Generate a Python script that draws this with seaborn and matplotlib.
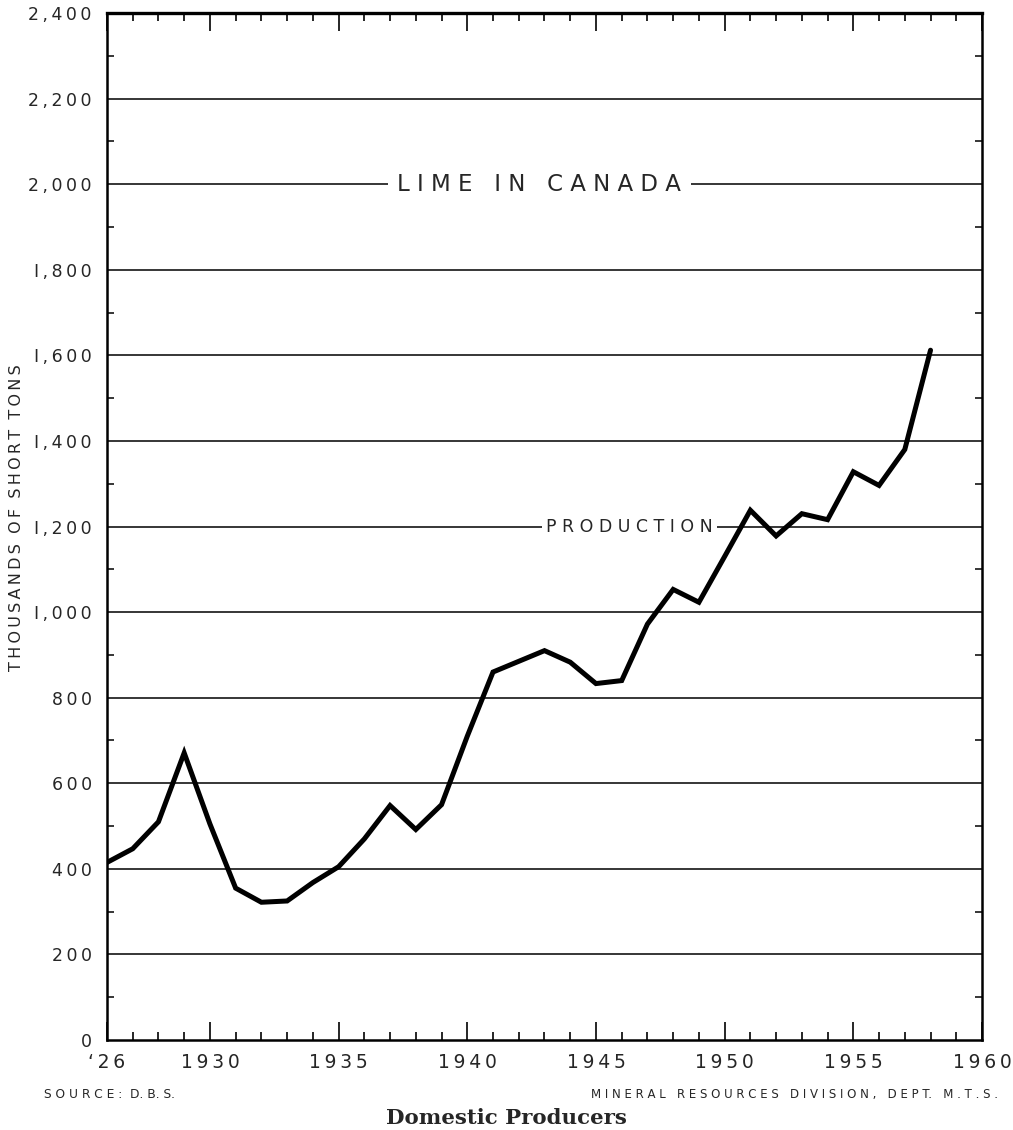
import matplotlib
matplotlib.use("Agg")
import matplotlib.pyplot as plt
from matplotlib.ticker import MultipleLocator, FixedLocator
import seaborn as sns
import pandas as pd

# Lime production in Canada, thousands of short tons
years = list(range(1926, 1959))
production = [415, 447, 510, 671, 505, 355, 322, 325, 368, 405,
              470, 548, 492, 550, 710, 860, 885, 910, 883, 833,
              840, 972, 1053, 1023, 1130, 1238, 1178, 1230, 1216, 1328,
              1296, 1380, 1612]

x_ticks = [1926, 1930, 1935, 1940, 1945, 1950, 1955, 1960]
x_labels = ["\u201826", "1930", "1935", "1940", "1945", "1950", "1955", "1960"]
y_ticks = list(range(0, 2401, 200))
y_labels = ["0", "200", "400", "600", "800", "I,000", "I,200", "I,400",
            "I,600", "I,800", "2,000", "2,200", "2,400"]

THIN = "\u2009"


def spaced(s):
    """Open up the letter spacing of a label with thin spaces."""
    return THIN.join(s)


df = pd.DataFrame({"year": years, "production": production})

sns.set_style("white")
plt.rcParams["font.family"] = ["DejaVu Sans"]

fig = plt.figure(figsize=(10.13, 11.30), dpi=100)
ax = fig.add_axes([0.1056, 0.0796, 0.8638, 0.9089])

# horizontal grid
for v in y_ticks[1:-1]:
    ax.axhline(v, color="black", lw=1.1, zorder=1)

sns.lineplot(data=df, x="year", y="production", ax=ax, color="black",
             lw=3.6, zorder=3, solid_joinstyle="miter")

ax.set_xlim(1926, 1960)
ax.set_ylim(0, 2400)

ax.set_xticks(x_ticks)
ax.set_xticklabels([spaced(s) for s in x_labels], fontsize=13.5)
ax.xaxis.set_minor_locator(MultipleLocator(1))
ax.set_yticks(y_ticks)
ax.set_yticklabels([spaced(s) for s in y_labels], fontsize=12.5)
ax.yaxis.set_minor_locator(FixedLocator(list(range(100, 2400, 200))))

ax.tick_params(axis="x", which="major", direction="in", length=13, width=1.4,
               top=True, bottom=True, pad=9)
ax.tick_params(axis="x", which="minor", direction="in", length=6, width=1.4,
               top=True, bottom=True)
ax.tick_params(axis="y", which="major", direction="in", length=0, pad=11)
ax.tick_params(axis="y", which="minor", direction="in", length=5, width=1.3,
               left=True, right=True)

for side, spine in ax.spines.items():
    spine.set_visible(True)
    spine.set_color("black")
    spine.set_linewidth(1.8)
ax.spines["top"].set_linewidth(2.4)

ax.set_xlabel("")
ax.set_ylabel("  ".join(spaced(w) for w in ["THOUSANDS", "OF", "SHORT", "TONS"]),
              fontsize=11.5)
ax.yaxis.set_label_coords(-0.095, 0.509)

ax.text(1942.8, 2000, "L I M E   I N   C A N A D A", fontsize=16.5,
        ha="center", va="center", zorder=4,
        bbox=dict(facecolor="white", edgecolor="none", pad=7))
ax.text(1946.3, 1200, "P R O D U C T I O N", fontsize=12.5,
        ha="center", va="center", zorder=4,
        bbox=dict(facecolor="white", edgecolor="none", pad=3))

fig.text(0.043, 0.031, "S O U R C E :  D. B. S.", fontsize=8.8,
         ha="left", va="center")
fig.text(0.985, 0.031, "M I N E R A L   R E S O U R C E S   D I V I S I O N ,   D E P T.   M . T . S .",
         fontsize=8.5, ha="right", va="center")
fig.text(0.50, 0.011, "Domestic Producers", fontsize=15.3, fontweight="bold",
         family="DejaVu Serif", ha="center", va="center")

fig.savefig("out.png", dpi=100, facecolor="white")
